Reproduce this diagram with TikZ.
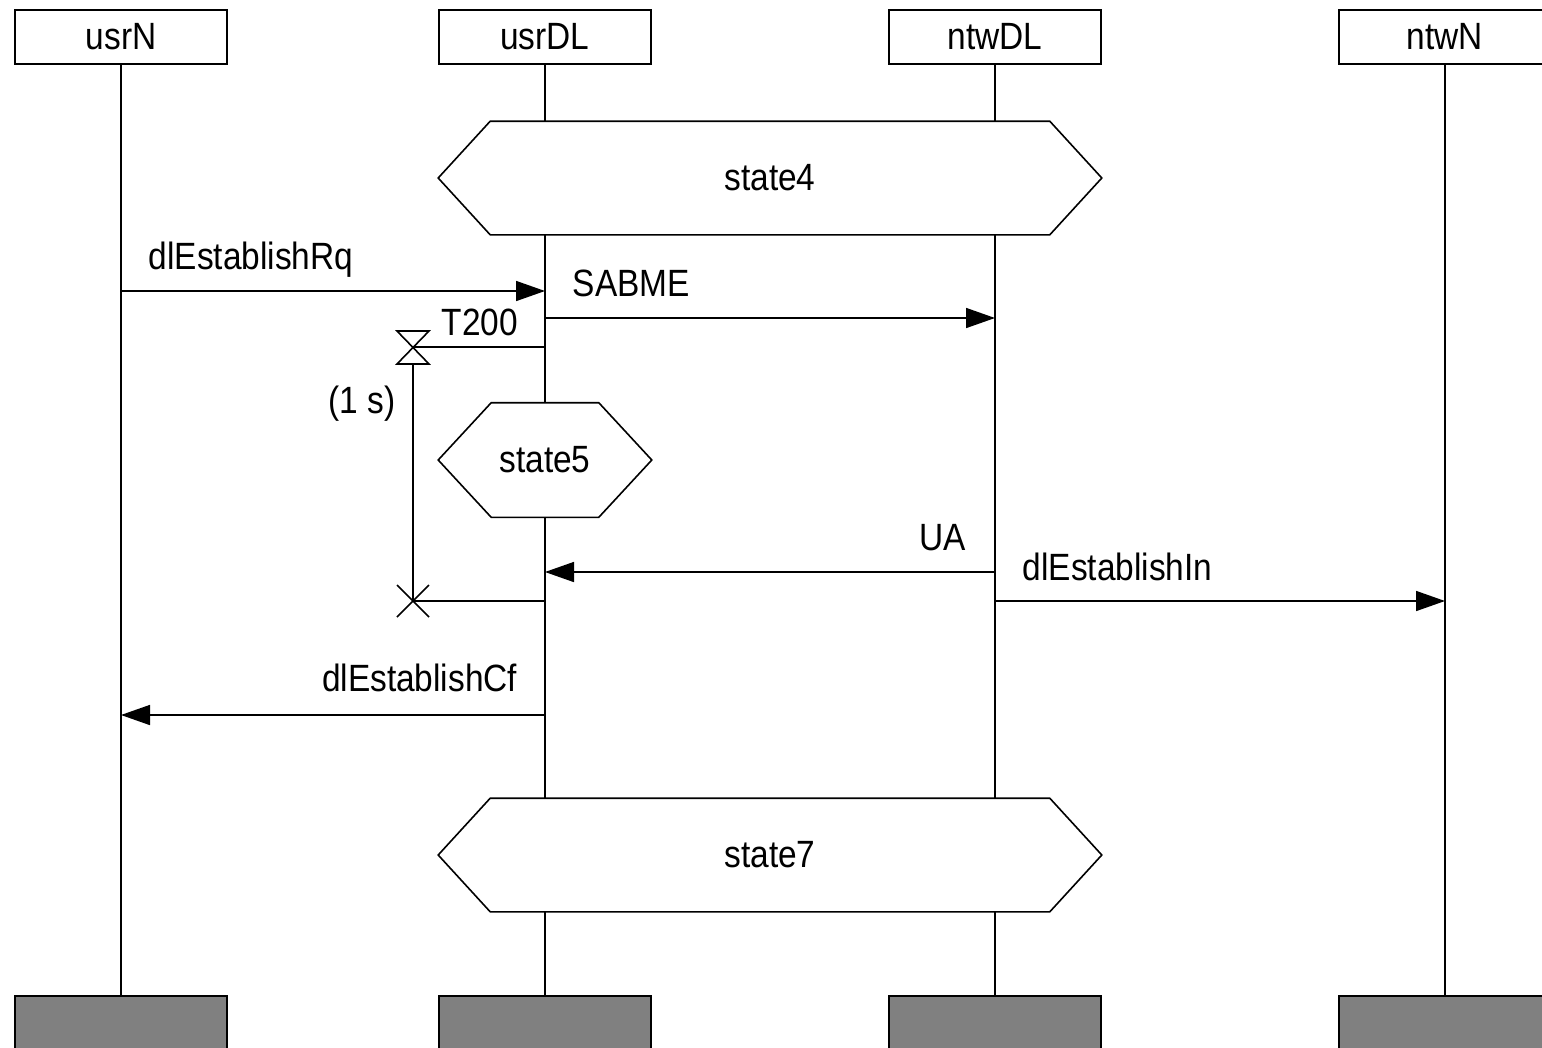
\documentclass[tikz,border=0pt]{standalone}
\usepackage{fontspec}
\setmainfont{Liberation Sans}[FakeStretch=0.88]
\usetikzlibrary{arrows.meta}
\begin{document}
\begin{tikzpicture}[x=1pt,y=-1pt,line width=1.6pt,
  every node/.style={font=\fontsize{38}{40}\selectfont,inner sep=0pt},
  inst/.style={draw,minimum width=212,minimum height=54},
  endbox/.style={draw,fill=black!50,minimum width=212,minimum height=60,anchor=north},
  wide/.style={minimum width=662,minimum height=112},
  narrow/.style={minimum width=212,minimum height=113},
  msg/.style={-{Triangle[length=29pt,width=20pt]}}]
\clip (0,0) rectangle (1542,1047);
\fill[white] (0,0) rectangle (1542,1047);

% instance heads
\node[inst] (usrN)  at (121,37)  {usrN};
\node[inst] (usrDL) at (545,37)  {usrDL};
\node[inst] (ntwDL) at (995,37)  {ntwDL};
\node[inst] (ntwN)  at (1445,37) {ntwN};

% instance ends
\node[endbox] (usrNe)  at (121,995)  {};
\node[endbox] (usrDLe) at (545,995)  {};
\node[endbox] (ntwDLe) at (995,995)  {};
\node[endbox] (ntwNe)  at (1445,995) {};

% conditions
\node[wide]   (s4) at (770,178) {state4};
\node[narrow] (s5) at (545,460) {state5};
\node[wide]   (s7) at (770,855) {state7};
\foreach \s/\c in {s4/52,s5/53,s7/52}{
  \draw (\s.west) -- ([xshift=\c]\s.north west) -- ([xshift=-\c]\s.north east)
    -- (\s.east) -- ([xshift=-\c]\s.south east) -- ([xshift=\c]\s.south west) -- cycle;
}

% lifelines
\draw (usrN.south) -- (usrNe.north);
\draw (ntwN.south) -- (ntwNe.north);
\draw (usrDL.south) -- (s4.north -| usrDL);
\draw (s4.south -| usrDL) -- (s5.north);
\draw (s5.south) -- (s7.north -| usrDL);
\draw (s7.south -| usrDL) -- (usrDLe.north);
\draw (ntwDL.south) -- (s4.north -| ntwDL);
\draw (s4.south -| ntwDL) -- (s7.north -| ntwDL);
\draw (s7.south -| ntwDL) -- (ntwDLe.north);

% messages
\coordinate (rq0) at (usrN |- 0,291);  \coordinate (rq1) at (usrDL |- 0,291);
\coordinate (sa0) at (usrDL |- 0,318); \coordinate (sa1) at (ntwDL |- 0,318);
\coordinate (ua0) at (ntwDL |- 0,572); \coordinate (ua1) at (usrDL |- 0,572);
\coordinate (in0) at (ntwDL |- 0,601); \coordinate (in1) at (ntwN |- 0,601);
\coordinate (cf0) at (usrDL |- 0,715); \coordinate (cf1) at (usrN |- 0,715);
\draw[msg] (rq0) -- (rq1);
\draw[msg] (sa0) -- (sa1);
\draw[msg] (ua0) -- (ua1);
\draw[msg] (in0) -- (in1);
\draw[msg] (cf0) -- (cf1);
\node[anchor=base west] (lrq) at (148,269) {dlEstablishRq};
\node[anchor=base west] (lsa) at (572,296) {SABME};
\node[anchor=base]      (lua) at (943,550) {UA};
\node[anchor=base west] (lin) at (1022,580) {dlEstablishIn};
\node[anchor=base east] (lcf) at (518,691) {dlEstablishCf};

% timer T200
\coordinate (ts) at (usrDL |- 0,347);
\coordinate (hg) at (413,347);
\coordinate (hgb) at (413,364);
\coordinate (tx) at (413,601);
\coordinate (te) at (usrDL |- 0,601);
\draw (ts) -- (hg);
\draw (397,331) -- (429,331) -- (397,364) -- (429,364) -- cycle;
\draw (hgb) -- (tx);
\draw (tx) -- (te);
\draw (397,585) -- (429,617) (397,617) -- (429,585);
\node (lt) at (480,322) {T200};
\node (ld) at (362,404) {(1 s)};
\end{tikzpicture}
\end{document}
